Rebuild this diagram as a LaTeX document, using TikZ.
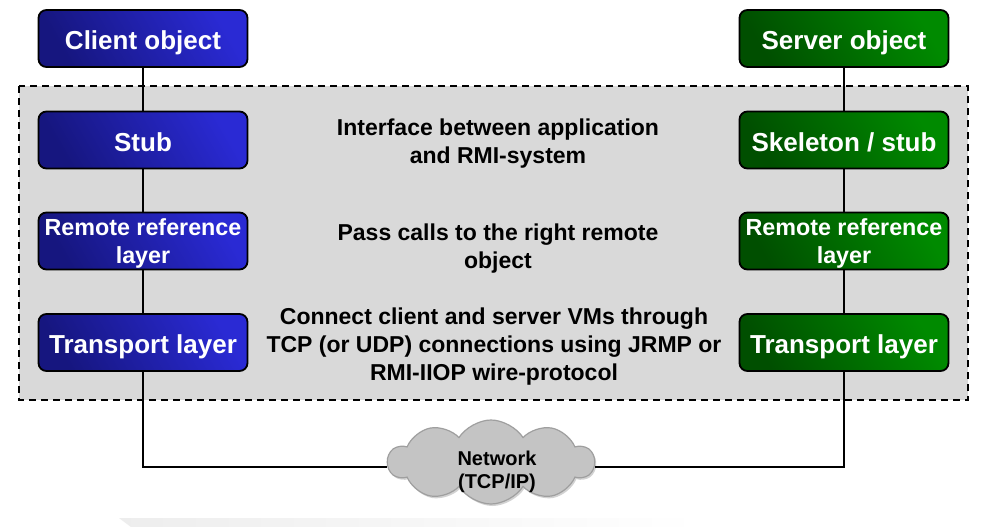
\documentclass[tikz,border=0pt]{standalone}
\usepackage{fontspec}
\setmainfont{Liberation Sans}
\usetikzlibrary{shapes.symbols,shadows}
\definecolor{bluedark}{HTML}{16167F}
\definecolor{bluelight}{HTML}{2A2AD4}
\definecolor{greendark}{HTML}{004F00}
\definecolor{greenlight}{HTML}{008A00}
\definecolor{panel}{HTML}{D9D9D9}
\definecolor{cloudgray}{HTML}{C4C4C4}
\begin{document}
\begin{tikzpicture}[x=1pt,y=-1pt,
  layerbox/.style={draw=black,line width=1.8pt,rounded corners=8pt,minimum width=209pt,minimum height=57pt,inner sep=1pt,align=center,text=white,font=\bfseries\fontsize{26}{28}\selectfont,text height=22.7pt,text depth=0pt},
  bluebox/.style={layerbox,left color=bluedark,right color=bluelight,shading angle=120},
  greenbox/.style={layerbox,left color=greendark,right color=greenlight,shading angle=120},
  smallbox/.style={font=\bfseries\fontsize{23.3}{28}\selectfont,text height=,text depth=0pt},
  conn/.style={line width=2.6pt,black},
  desc/.style={align=center,font=\bfseries\fontsize{23}{28}\selectfont}]
\useasboundingbox (0,0) rectangle (985,527);
\fill[white] (0,0) rectangle (985,527);
% faint reflection band
\shade[left color=black!7,right color=white,draw=none] (119,518) -- (700,518) -- (700,527) -- (131,527) -- cycle;
% panel
\draw[fill=panel,line width=1.8pt,dash pattern=on 7pt off 5pt] (19,86) rectangle (968,400);
% nodes
\node[bluebox] (client) at (143,38.5) {Client object};
\node[bluebox] (stub) at (143,140) {Stub};
\node[bluebox,smallbox] (rrl) at (143,241) {Remote reference\\layer};
\node[bluebox] (tl) at (143,342.5) {Transport layer};
\node[greenbox] (server) at (844,38.5) {Server object};
\node[greenbox] (skel) at (844,140) {Skeleton / stub};
\node[greenbox,smallbox] (rrr) at (844,241) {Remote reference\\layer};
\node[greenbox] (tr) at (844,342.5) {Transport layer};
\node[cloud,cloud puffs=10,cloud puff arc=115,aspect=2.4,minimum width=206pt,minimum height=84pt,fill=cloudgray,draw=gray!75,line width=1.2pt,drop shadow={shadow xshift=1.5pt,shadow yshift=-2pt,opacity=0.35},inner sep=0pt] (net) at (491,462) {};
\node[align=center,font=\bfseries\fontsize{20}{23}\selectfont] (netlabel) at (497,472) {Network\\(TCP/IP)};
% descriptions
\node[desc] (d1) at (498,144) {Interface between application\\and RMI-system};
\node[desc] (d2) at (498,249) {Pass calls to the right remote\\object};
\node[desc] (d3) at (494,347) {Connect client and server VMs through\\TCP (or UDP) connections using JRMP or\\RMI-IIOP wire-protocol};
% connectors
\coordinate (lc) at (143,467);
\coordinate (rc) at (844,467);
\draw[conn] (client.south) -- (stub.north);
\draw[conn] (stub.south) -- (rrl.north);
\draw[conn] (rrl.south) -- (tl.north);
\draw[conn] (tl.south) -- (lc) -- (net.west |- lc);
\draw[conn] (server.south) -- (skel.north);
\draw[conn] (skel.south) -- (rrr.north);
\draw[conn] (rrr.south) -- (tr.north);
\draw[conn] (tr.south) -- (rc) -- (net.east |- rc);
\end{tikzpicture}
\end{document}
